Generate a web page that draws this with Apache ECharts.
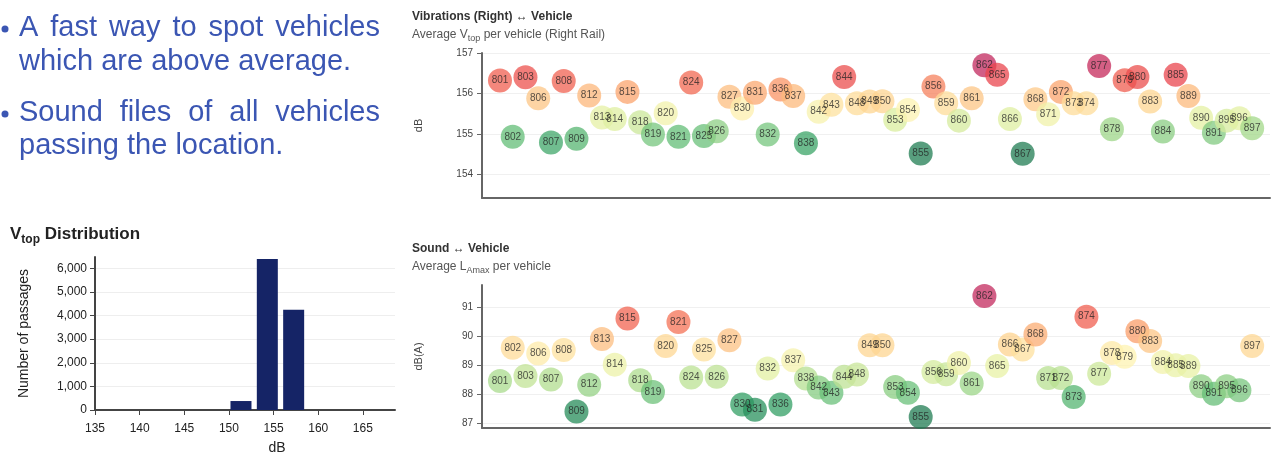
<!DOCTYPE html>
<html>
<head>
<meta charset="utf-8">
<script src="https://cdn.jsdelivr.net/npm/echarts@6/dist/echarts.min.js"></script>
<style>
html, body { margin: 0; padding: 0; background: #fff; }
#main { width: 1273px; height: 456px; }
</style>
</head>
<body>
<div id="main"></div>
<script>
var vehicles = [801, 802, 803, 806, 807, 808, 809, 812, 813, 814, 815, 818, 819, 820, 821,
    824, 825, 826, 827, 830, 831, 832, 836, 837, 838, 842, 843, 844, 848, 849, 850,
    853, 854, 855, 856, 859, 860, 861, 862, 865, 866, 867, 868, 871, 872, 873, 874,
    877, 878, 879, 880, 883, 884, 885, 889, 890, 891, 895, 896, 897];

// average Vtop per vehicle, right rail (dB)
var vtopValues = [156.32, 154.93, 156.40, 155.88, 154.79, 156.31, 154.88, 155.95, 155.41, 155.37,
    156.04, 155.29, 154.99, 155.51, 154.93, 156.27, 154.95, 155.07, 155.92, 155.63,
    156.02, 154.99, 156.10, 155.94, 154.77, 155.55, 155.72, 156.41, 155.76, 155.80,
    155.81, 155.35, 155.59, 154.52, 156.17, 155.76, 155.33, 155.88, 156.70, 156.46,
    155.37, 154.51, 155.86, 155.49, 156.04, 155.76, 155.76, 156.68, 155.12, 156.33,
    156.41, 155.80, 155.06, 156.46, 155.94, 155.40, 155.03, 155.33, 155.39, 155.14];

// average LAmax per vehicle (dB(A))
var lamaxValues = [88.47, 89.61, 88.64, 89.41, 88.52, 89.53, 87.42, 88.34, 89.91, 89.03,
    90.62, 88.49, 88.09, 89.67, 90.50, 88.59, 89.55, 88.61, 89.87, 87.66,
    87.48, 88.90, 87.66, 89.18, 88.55, 88.24, 88.06, 88.61, 88.69, 89.70,
    89.70, 88.26, 88.06, 87.23, 88.78, 88.70, 89.09, 88.38, 91.39, 88.98,
    89.72, 89.55, 90.07, 88.57, 88.57, 87.92, 90.68, 88.72, 89.43, 89.30,
    90.18, 89.84, 89.12, 89.01, 88.98, 88.29, 88.03, 88.29, 88.15, 89.67];

// Vtop distribution histogram
var histBinCenters = [151.35, 154.3, 157.25];
var histCounts = [380, 6400, 4250];

var histXTicks = [135, 140, 145, 150, 155, 160, 165];
var histYTicks = [0, 1000, 2000, 3000, 4000, 5000, 6000];
var vtopTicks = [154, 155, 156, 157];
var lamaxTicks = [87, 88, 89, 90, 91];

var bulletLines = [
    ['A fast way to spot vehicles', true],
    ['which are above average.', false],
    ['Sound files of all vehicles', true],
    ['passing the location.', false]
];

var FONT = '"Liberation Sans", Arial, Helvetica, sans-serif';
var BODY_FONT = '29px ' + FONT;
var BLUE = '#3b56b3';
var scale = ['#1f7a52', '#2e9c62', '#66bf78', '#a9da8c', '#e2f0a2', '#fdf3b2',
    '#fdd38f', '#fba46d', '#f36a52', '#e8424c', '#c2285d'];

var chartDom = document.getElementById('main');
var myChart = echarts.init(chartDom);

// justified paragraph words, placed as separate text elements
var ctx = document.createElement('canvas').getContext('2d');
ctx.font = BODY_FONT;
var graphics = [];
var lineY = [28, 61.5, 113, 146];
bulletLines.forEach(function (ln, k) {
    var words = ln[0].split(' ');
    var widths = words.map(function (w) { return ctx.measureText(w).width; });
    var total = widths.reduce(function (a, b) { return a + b; }, 0);
    var gap = ln[1] ? (380 - 19 - total) / (words.length - 1) : ctx.measureText(' ').width;
    var x = 19;
    words.forEach(function (w, i) {
        graphics.push({
            type: 'text', x: x, y: lineY[k],
            style: { text: w, font: BODY_FONT, fill: BLUE, align: 'left', verticalAlign: 'middle',
                textAlign: 'left', textVerticalAlign: 'middle' }
        });
        x += widths[i] + gap;
    });
});
[lineY[0], lineY[2]].forEach(function (y) {
    graphics.push({ type: 'circle', shape: { cx: 5, cy: y + 1, r: 3.5 }, style: { fill: BLUE } });
});

var subRich = {
    sub: { fontSize: 9, color: '#555', fontFamily: FONT, verticalAlign: 'bottom', lineHeight: 17 }
};

function scatterAxisY(idx, min, max, ticks, name) {
    return {
        gridIndex: idx, type: 'value', min: min, max: max,
        name: name, nameLocation: 'middle', nameGap: 58,
        nameTextStyle: { fontSize: 11, color: '#444', fontFamily: FONT },
        axisLine: { show: true, onZero: false, lineStyle: { color: '#666', width: 2 } },
        axisTick: { show: true, length: 5, customValues: ticks, lineStyle: { color: '#666' } },
        axisLabel: { customValues: ticks, fontSize: 10, color: '#444', margin: 9, fontFamily: FONT },
        splitLine: { show: true, lineStyle: { color: '#f0f0f0' } }
    };
}

function scatterAxisX(idx) {
    return {
        gridIndex: idx, type: 'value', min: -1.41, max: 60.4,
        axisLine: { show: true, onZero: false, lineStyle: { color: '#666', width: 2 } },
        axisTick: { show: false }, axisLabel: { show: false }, splitLine: { show: false }
    };
}

function scatterSeries(idx, values) {
    return {
        type: 'scatter', xAxisIndex: idx, yAxisIndex: idx,
        data: vehicles.map(function (v, i) { return [i, values[i], v]; }),
        symbolSize: 24,
        itemStyle: { opacity: 0.75 },
        label: {
            show: true, position: 'inside', fontSize: 10, color: '#222', fontFamily: FONT,
            formatter: function (p) { return p.data[2]; }
        },
        emphasis: { scale: false }
    };
}

var option = {
    animation: false,
    textStyle: { fontFamily: FONT },
    graphic: graphics,
    title: [{
        left: 10, top: 222, padding: 0,
        text: 'V{sub|top} Distribution',
        textStyle: {
            fontSize: 17, fontWeight: 'bold', color: '#222', fontFamily: FONT,
            rich: { sub: { fontSize: 12, fontWeight: 'bold', color: '#222', fontFamily: FONT, verticalAlign: 'bottom', lineHeight: 24 } }
        }
    }, {
        left: 412, top: 11, padding: 0, itemGap: 3,
        text: 'Vibrations (Right) ↔ Vehicle',
        textStyle: { fontSize: 12, fontWeight: 'bold', color: '#333', fontFamily: FONT },
        subtext: 'Average V{sub|top} per vehicle (Right Rail)',
        subtextStyle: { fontSize: 12, color: '#555', fontFamily: FONT, rich: subRich }
    }, {
        left: 412, top: 243, padding: 0, itemGap: 3,
        text: 'Sound ↔ Vehicle',
        textStyle: { fontSize: 12, fontWeight: 'bold', color: '#333', fontFamily: FONT },
        subtext: 'Average L{sub|Amax} per vehicle',
        subtextStyle: { fontSize: 12, color: '#555', fontFamily: FONT, rich: subRich }
    }],
    grid: [
        { left: 95, top: 257, width: 300, height: 157 },
        { left: 482, top: 53, width: 788, height: 145 },
        { left: 482, top: 285, width: 788, height: 143 }
    ],
    xAxis: [{
        gridIndex: 0, type: 'value', min: 135, max: 168.6,
        name: 'dB', nameLocation: 'middle', nameGap: 31,
        nameTextStyle: { fontSize: 14, color: '#222', padding: [0, 0, 0, 64], fontFamily: FONT },
        axisLine: { show: true, onZero: false, lineStyle: { color: '#444', width: 2 } },
        axisTick: { show: true, length: 5, customValues: histXTicks, lineStyle: { color: '#444' } },
        axisLabel: { customValues: histXTicks, fontSize: 12, color: '#222', margin: 13, fontFamily: FONT },
        splitLine: { show: false }
    }, scatterAxisX(1), scatterAxisX(2)],
    yAxis: [{
        gridIndex: 0, type: 'value', min: 0, max: 6480,
        name: 'Number of passages', nameLocation: 'middle', nameGap: 64,
        nameTextStyle: { fontSize: 14, color: '#222', fontFamily: FONT },
        axisLine: { show: true, onZero: false, lineStyle: { color: '#444', width: 2 } },
        axisTick: { show: true, length: 5, customValues: histYTicks, lineStyle: { color: '#444' } },
        axisLabel: {
            customValues: histYTicks, fontSize: 12, color: '#222', margin: 8, fontFamily: FONT,
            formatter: function (v) { return v.toLocaleString('en-US'); }
        },
        splitLine: { show: true, lineStyle: { color: '#eeeeee' } }
    },
    scatterAxisY(1, 153.42, 157, vtopTicks, 'dB'),
    scatterAxisY(2, 86.85, 91.77, lamaxTicks, 'dB(A)')],
    visualMap: [
        { type: 'continuous', show: false, seriesIndex: 1, dimension: 1, min: 154.5, max: 156.7, inRange: { color: scale } },
        { type: 'continuous', show: false, seriesIndex: 2, dimension: 1, min: 87.2, max: 91.4, inRange: { color: scale } }
    ],
    series: [{
        type: 'bar', xAxisIndex: 0, yAxisIndex: 0,
        data: histBinCenters.map(function (c, i) { return [c, histCounts[i]]; }),
        barWidth: 21,
        itemStyle: { color: '#152466' }
    },
    scatterSeries(1, vtopValues),
    scatterSeries(2, lamaxValues)]
};

option && myChart.setOption(option);
</script>
</body>
</html>
